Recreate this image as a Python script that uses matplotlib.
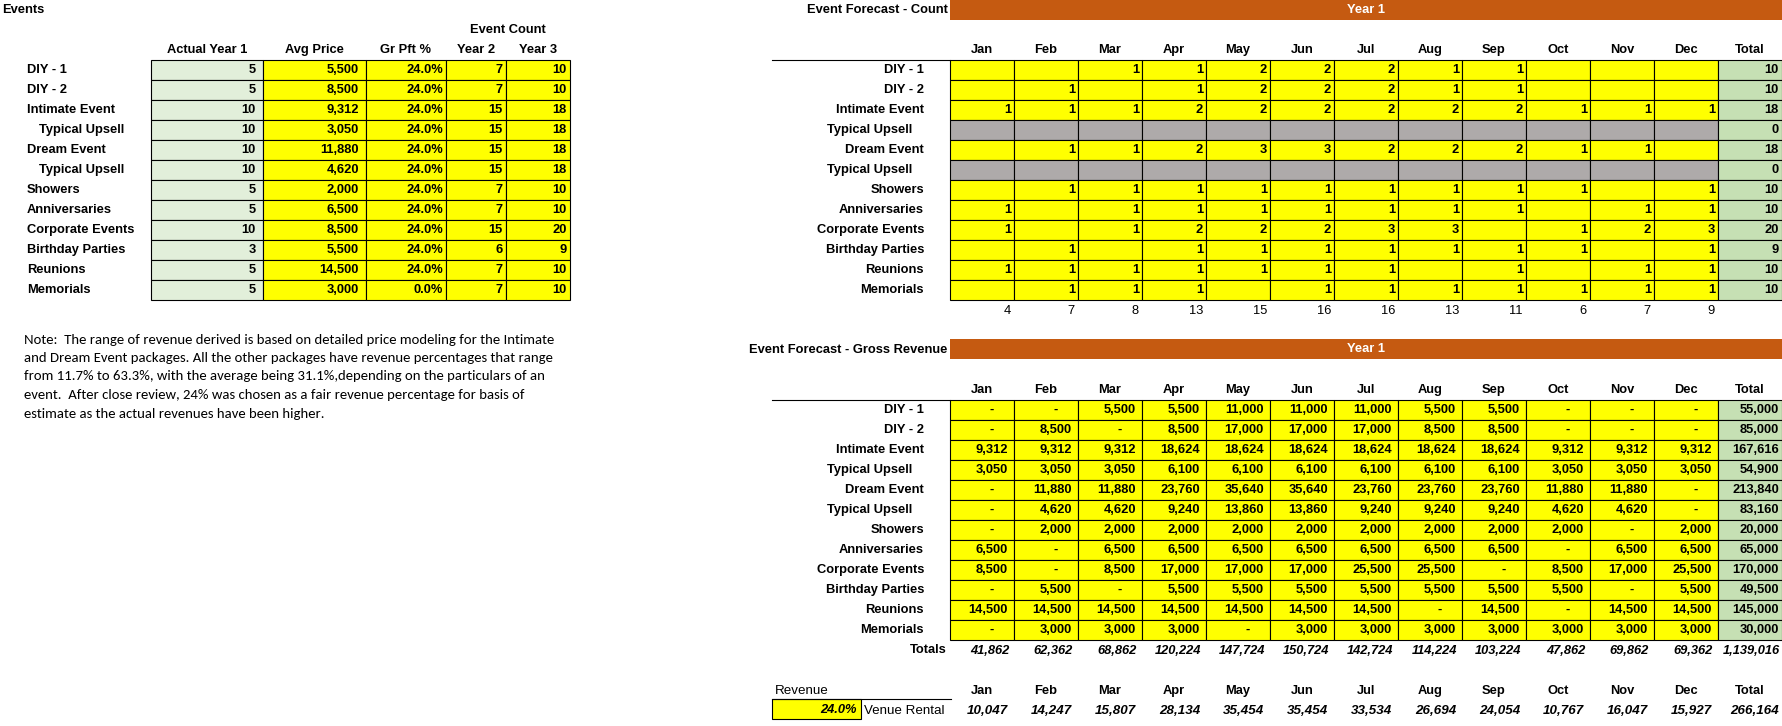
import matplotlib
matplotlib.use("Agg")
import matplotlib.pyplot as plt
from matplotlib.patches import Rectangle
from matplotlib import font_manager

# ---------------- data ----------------
categories = ["DIY - 1", "DIY - 2", "Intimate Event", "Typical Upsell", "Dream Event",
              "Typical Upsell", "Showers", "Anniversaries", "Corporate Events",
              "Birthday Parties", "Reunions", "Memorials"]
actual_year1 = [5, 5, 10, 10, 10, 10, 5, 5, 10, 3, 5, 5]
avg_price = [5500, 8500, 9312, 3050, 11880, 4620, 2000, 6500, 8500, 5500, 14500, 3000]
gr_pft_pct = [24.0, 24.0, 24.0, 24.0, 24.0, 24.0, 24.0, 24.0, 24.0, 24.0, 24.0, 0.0]
year2_count = [7, 7, 15, 15, 15, 15, 7, 7, 15, 6, 7, 7]
year3_count = [10, 10, 18, 18, 18, 18, 10, 10, 20, 9, 10, 10]

months = ["Jan", "Feb", "Mar", "Apr", "May", "Jun", "Jul", "Aug", "Sep", "Oct", "Nov", "Dec"]

N = None
count_monthly = [
    [N, N, 1, 1, 2, 2, 2, 1, 1, N, N, N],
    [N, 1, N, 1, 2, 2, 2, 1, 1, N, N, N],
    [1, 1, 1, 2, 2, 2, 2, 2, 2, 1, 1, 1],
    [N] * 12,
    [N, 1, 1, 2, 3, 3, 2, 2, 2, 1, 1, N],
    [N] * 12,
    [N, 1, 1, 1, 1, 1, 1, 1, 1, 1, N, 1],
    [1, N, 1, 1, 1, 1, 1, 1, 1, N, 1, 1],
    [1, N, 1, 2, 2, 2, 3, 3, N, 1, 2, 3],
    [N, 1, N, 1, 1, 1, 1, 1, 1, 1, N, 1],
    [1, 1, 1, 1, 1, 1, 1, N, 1, N, 1, 1],
    [N, 1, 1, 1, N, 1, 1, 1, 1, 1, 1, 1],
]
count_greyed = [False, False, False, True, False, True, False, False, False, False, False, False]
count_row_total = [10, 10, 18, 0, 18, 0, 10, 10, 20, 9, 10, 10]
count_month_total = [4, 7, 8, 13, 15, 16, 16, 13, 11, 6, 7, 9]

revenue_monthly = [
    [0, 0, 5500, 5500, 11000, 11000, 11000, 5500, 5500, 0, 0, 0],
    [0, 8500, 0, 8500, 17000, 17000, 17000, 8500, 8500, 0, 0, 0],
    [9312, 9312, 9312, 18624, 18624, 18624, 18624, 18624, 18624, 9312, 9312, 9312],
    [3050, 3050, 3050, 6100, 6100, 6100, 6100, 6100, 6100, 3050, 3050, 3050],
    [0, 11880, 11880, 23760, 35640, 35640, 23760, 23760, 23760, 11880, 11880, 0],
    [0, 4620, 4620, 9240, 13860, 13860, 9240, 9240, 9240, 4620, 4620, 0],
    [0, 2000, 2000, 2000, 2000, 2000, 2000, 2000, 2000, 2000, 0, 2000],
    [6500, 0, 6500, 6500, 6500, 6500, 6500, 6500, 6500, 0, 6500, 6500],
    [8500, 0, 8500, 17000, 17000, 17000, 25500, 25500, 0, 8500, 17000, 25500],
    [0, 5500, 0, 5500, 5500, 5500, 5500, 5500, 5500, 5500, 0, 5500],
    [14500, 14500, 14500, 14500, 14500, 14500, 14500, 0, 14500, 0, 14500, 14500],
    [0, 3000, 3000, 3000, 0, 3000, 3000, 3000, 3000, 3000, 3000, 3000],
]
revenue_row_total = [55000, 85000, 167616, 54900, 213840, 83160, 20000, 65000, 170000,
                     49500, 145000, 30000]
revenue_month_total = [41862, 62362, 68862, 120224, 147724, 150724, 142724, 114224,
                       103224, 47862, 69862, 69362]
revenue_grand_total = 1139016

venue_pct = 24.0
venue_rental = [10047, 14247, 15807, 28134, 35454, 35454, 33534, 26694, 24054, 10767,
                16047, 15927]
venue_rental_total = 266164

note_lines = [
    "Note:  The range of revenue derived is based on detailed price modeling for the Intimate",
    "and Dream Event packages. All the other packages have revenue percentages that range",
    "from 11.7% to 63.3%, with the average being 31.1%,depending on the particulars of an",
    "event.  After close review, 24% was chosen as a fair revenue percentage for basis of",
    "estimate as the actual revenues have been higher.",
]

# ---------------- styling / layout ----------------
W, H, DPI = 1783, 726, 100


def has_font(name):
    try:
        font_manager.findfont(font_manager.FontProperties(family=name),
                              fallback_to_default=False)
        return True
    except Exception:
        return False


ARIAL = "Liberation Sans"
NARROW = "Liberation Sans Narrow" if has_font("Liberation Sans Narrow") else ARIAL
NOTE_FONT = "Carlito" if has_font("Carlito") else "Lato"
FS = 9.3
LW = 0.8

YELLOW = "#FFFF00"
PALE = "#E2EFDA"
GREEN = "#C6E0B4"
GREY = "#AEAAAA"
ORANGE = "#C55A11"

fig = plt.figure(figsize=(W / DPI, H / DPI), dpi=DPI)
ax = fig.add_axes([0, 0, 1, 1])
ax.set_xlim(0, W)
ax.set_ylim(H, 0)
ax.axis("off")


def cell(x0, x1, y0, y1, fc, ec="black"):
    ax.add_patch(Rectangle((x0, y0), x1 - x0, y1 - y0, facecolor=fc, edgecolor=ec,
                           linewidth=LW, zorder=1))


def txt(x, y, s, ha="left", weight="bold", style="normal", size=FS, family=ARIAL,
        color="black"):
    ax.text(x, y, s, ha=ha, va="center", fontsize=size, fontweight=weight,
            fontstyle=style, family=family, color=color, zorder=3)


def fmt(v):
    return f"{v:,.0f}"


ROW_H = 20
DIGIT_W = 7.1

# ---------- left table ----------
txt(2, 10, "Events")
left_edges = [151, 263, 366, 446, 506, 570]
left_pads = [7, 7, 3, 3, 3]
left_fc = [PALE, YELLOW, YELLOW, YELLOW, YELLOW]
left_headers = ["Actual Year 1", "Avg Price", "Gr Pft %", "Year 2", "Year 3"]
top = 60
txt((left_edges[3] + left_edges[5]) / 2, 30, "Event Count", ha="center")
for j, hname in enumerate(left_headers):
    txt((left_edges[j] + left_edges[j + 1]) / 2, 50, hname, ha="center")
left_cols = [
    [str(v) for v in actual_year1],
    [fmt(v) for v in avg_price],
    [f"{v:.1f}%" for v in gr_pft_pct],
    [str(v) for v in year2_count],
    [str(v) for v in year3_count],
]
for i, name in enumerate(categories):
    y0 = top + i * ROW_H
    yc = y0 + ROW_H / 2
    indent = 12 if name.startswith("Typical") else 0
    txt(27 + indent, yc, name)
    for j in range(5):
        cell(left_edges[j], left_edges[j + 1], y0, y0 + ROW_H, left_fc[j])
        txt(left_edges[j + 1] - left_pads[j], yc, left_cols[j][i], ha="right")

# ---------- note ----------
for k, line in enumerate(note_lines):
    txt(24, 339.5 + k * 18.5, line, weight="normal", size=10.65, family=NOTE_FONT)

# ---------- right tables common ----------
GX0 = 950
CW = 64
col_edges = [GX0 + k * CW for k in range(14)]
LABEL_R = 924


def label(name, yc):
    r = LABEL_R - (12 if name.startswith("Typical") else 0)
    txt(r, yc, name, ha="right")


def month_headers(y):
    for k, m in enumerate(months + ["Total"]):
        txt((col_edges[k] + col_edges[k + 1]) / 2, y, m, ha="center")


# ---------- Event Forecast - Count ----------
ax.add_patch(Rectangle((GX0, 0), W - GX0, 20, facecolor=ORANGE, edgecolor="none", zorder=1))
txt(948, 10, "Event Forecast - Count", ha="right")
txt((GX0 + W) / 2, 10, "Year 1", ha="center", color="white")
month_headers(50)
ax.plot([772, GX0], [60, 60], color="black", linewidth=LW, zorder=2)
for i, name in enumerate(categories):
    y0 = 60 + i * ROW_H
    yc = y0 + ROW_H / 2
    label(name, yc)
    for k in range(12):
        fc = GREY if count_greyed[i] else YELLOW
        cell(col_edges[k], col_edges[k + 1], y0, y0 + ROW_H, fc)
        v = count_monthly[i][k]
        if v is not None:
            txt(col_edges[k + 1] - 3, yc, str(v), ha="right")
    cell(col_edges[12], col_edges[13], y0, y0 + ROW_H, GREEN)
    txt(col_edges[13] - 3, yc, str(count_row_total[i]), ha="right")
for k, v in enumerate(count_month_total):
    txt(col_edges[k + 1] - 3, 311, str(v), ha="right", weight="normal")

# ---------- Event Forecast - Gross Revenue ----------
ax.add_patch(Rectangle((GX0, 339), W - GX0, 20, facecolor=ORANGE, edgecolor="none", zorder=1))
txt(947, 350, "Event Forecast - Gross Revenue", ha="right")
txt((GX0 + W) / 2, 349, "Year 1", ha="center", color="white")
month_headers(390)
ax.plot([772, GX0], [400, 400], color="black", linewidth=LW, zorder=2)
for i, name in enumerate(categories):
    y0 = 400 + i * ROW_H
    yc = y0 + ROW_H / 2
    label(name, yc)
    for k in range(12):
        cell(col_edges[k], col_edges[k + 1], y0, y0 + ROW_H, YELLOW)
        v = revenue_monthly[i][k]
        if v == 0:
            txt(col_edges[k + 1] - 6 - 2 * DIGIT_W, yc, "-", ha="right")
        else:
            txt(col_edges[k + 1] - 6, yc, fmt(v), ha="right")
    cell(col_edges[12], col_edges[13], y0, y0 + ROW_H, GREEN)
    txt(col_edges[13] - 3, yc, fmt(revenue_row_total[i]), ha="right")
txt(947, 650, "Totals", ha="right")
for k, v in enumerate(revenue_month_total):
    txt(col_edges[k + 1] - 5, 651, fmt(v), ha="right", style="italic")
txt(col_edges[13] - 2, 651, fmt(revenue_grand_total), ha="right", style="italic")

# ---------- Revenue / Venue Rental ----------
txt(775, 691, "Revenue", weight="normal", family=NARROW, size=9.6)
ax.plot([772, 951], [699, 699], color="black", linewidth=LW, zorder=2)
cell(772, 861, 699, 719, YELLOW)
txt(857, 710, f"{venue_pct:.1f}%", ha="right", style="italic")
txt(864, 711, "Venue Rental", weight="normal", family=NARROW, size=9.6)
month_headers(691)
for k, v in enumerate(venue_rental):
    txt(col_edges[k + 1] - 6, 711, fmt(v), ha="right", style="italic", family=NARROW,
        size=9.6)
txt(col_edges[13] - 3, 711, fmt(venue_rental_total), ha="right", style="italic",
    family=NARROW, size=9.6)

fig.savefig("out.png", dpi=DPI)
